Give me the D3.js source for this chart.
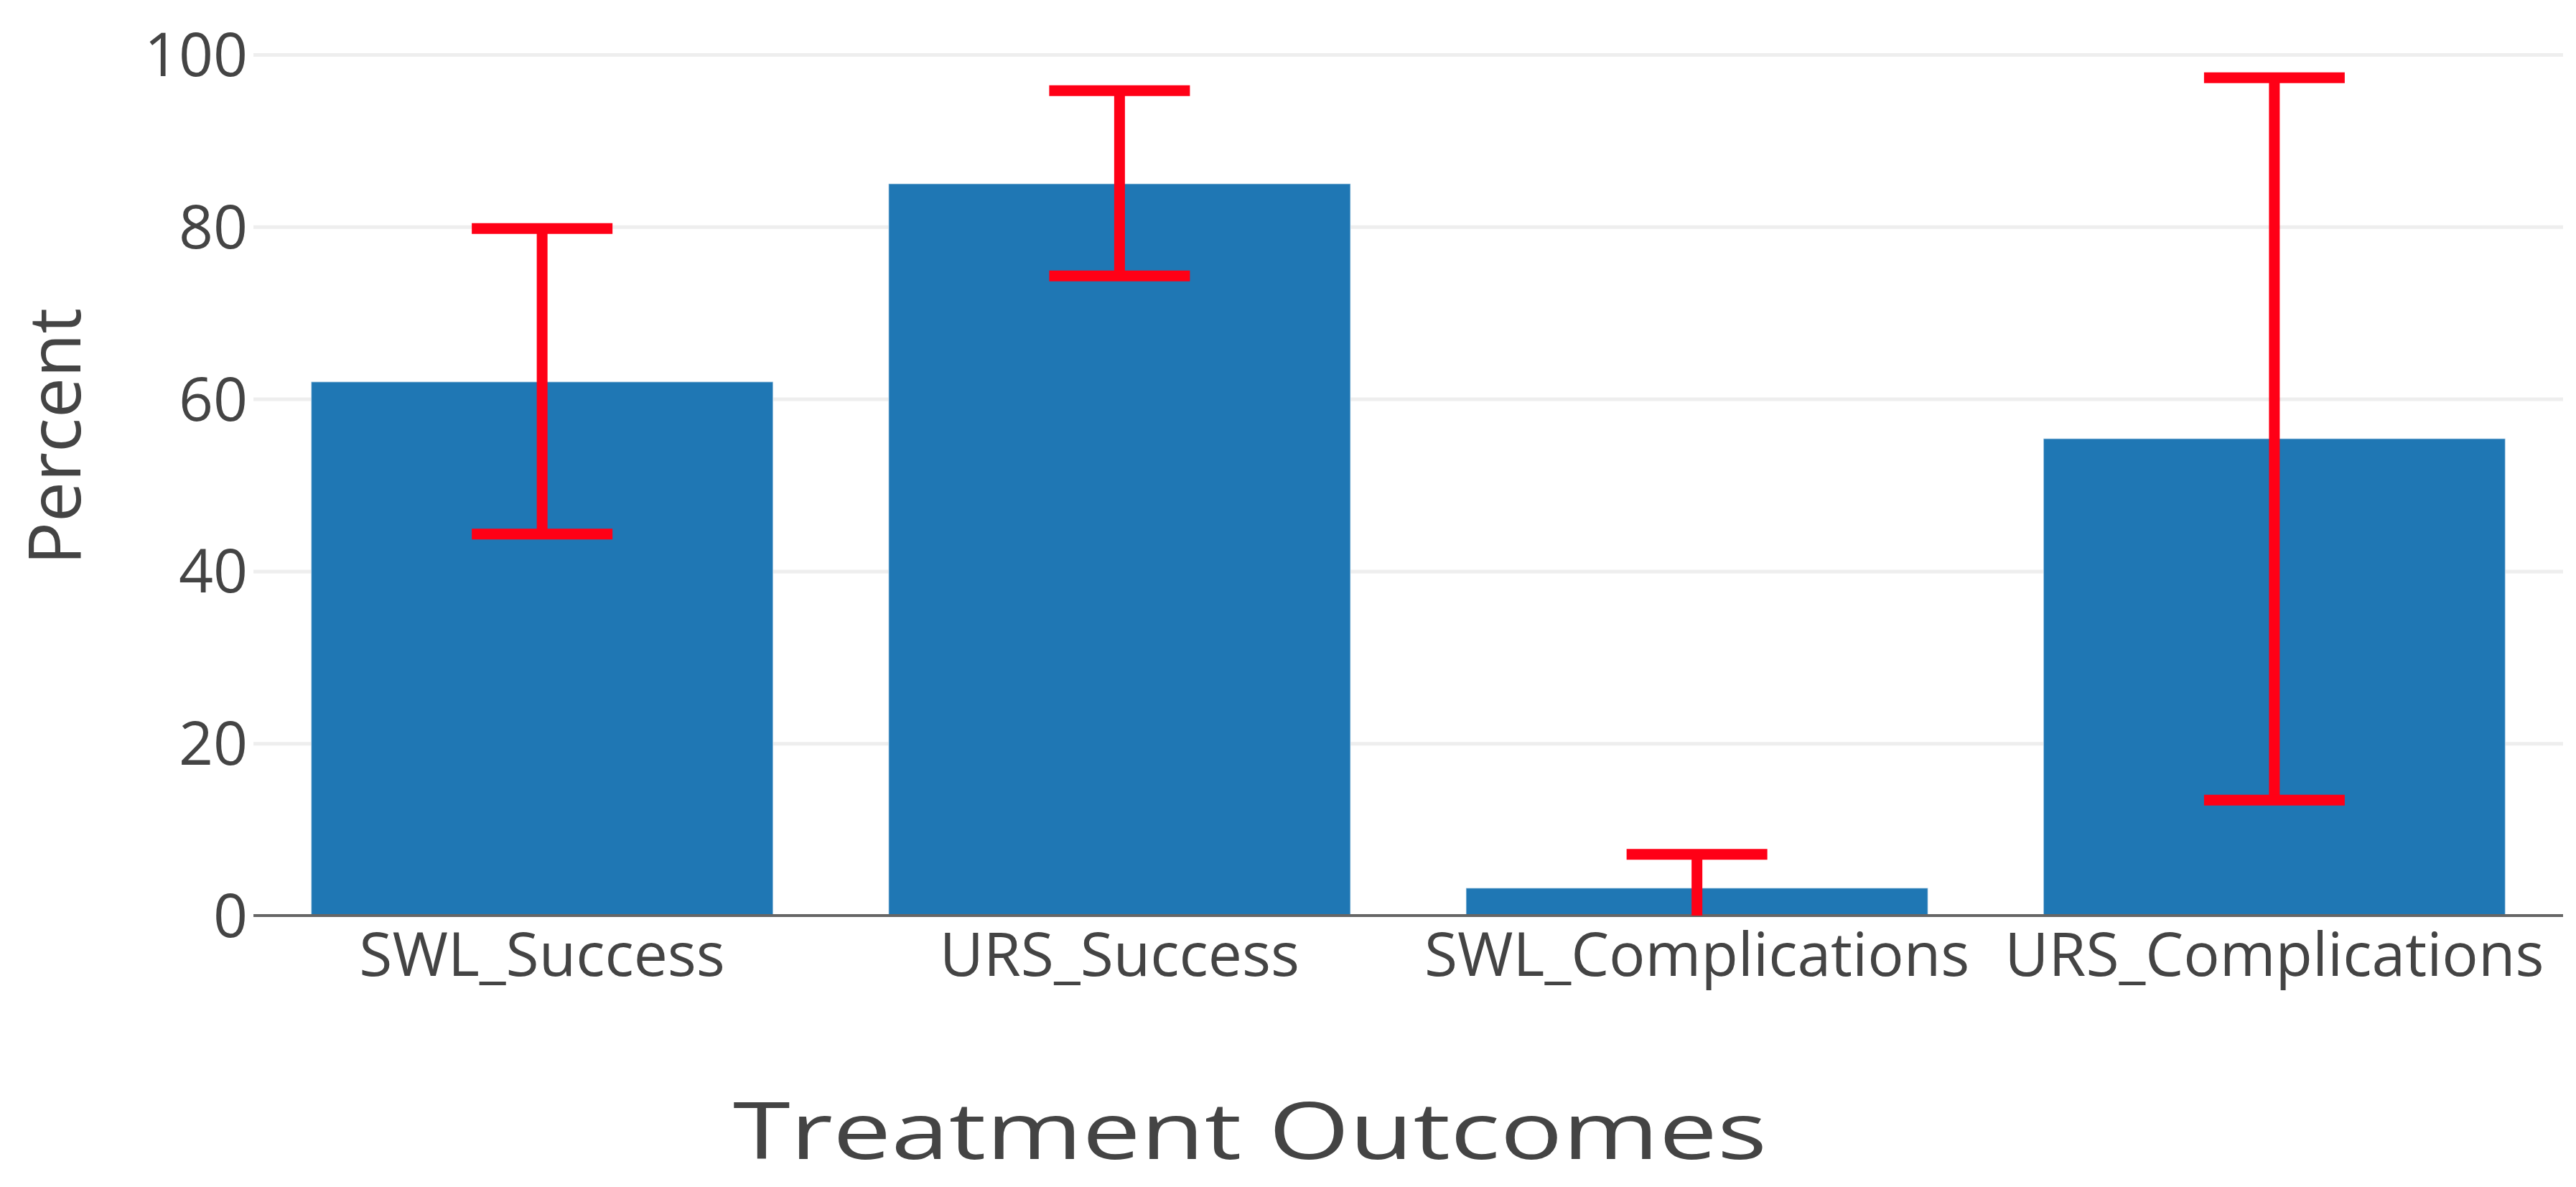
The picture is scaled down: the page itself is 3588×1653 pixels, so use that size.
<!DOCTYPE html>
<html>
<head>
<meta charset="utf-8">
<script src="https://cdn.jsdelivr.net/npm/d3@7.9.0/dist/d3.min.js"></script>
<style>
  body { margin: 0; background: #fff; }
  svg text { font-family: "Open Sans", sans-serif; fill: #444; }
</style>
</head>
<body>
<svg id="chart" width="3588" height="1653"></svg>
<script>
// Data
const categories = ["SWL_Success", "URS_Success", "SWL_Complications", "URS_Complications"];
const percents = [62, 85, 3.2, 55.4];
const errLow = [44.3, 74.3, -1, 13.4];
const errHigh = [79.8, 95.8, 7.1, 97.3];
const yTicks = [0, 20, 40, 60, 80, 100];

const rows = categories.map((c, i) => ({
  name: c, value: percents[i], lo: errLow[i], hi: errHigh[i]
}));

const svg = d3.select("#chart");
const margin = { top: 76, right: 18, bottom: 378, left: 353 };
const width = 3588 - margin.left - margin.right;
const height = 1653 - margin.top - margin.bottom;

const x = d3.scaleBand()
  .domain(categories)
  .range([0, width])
  .paddingInner(0.2)
  .paddingOuter(0.1);

const y = d3.scaleLinear()
  .domain([0, 100])
  .range([height, 0]);

const g = svg.append("g")
  .attr("transform", `translate(${margin.left},${margin.top})`);

// clip so error bars stay inside the plot area
svg.append("defs").append("clipPath")
  .attr("id", "plot-clip")
  .append("rect")
  .attr("x", -20).attr("y", -40)
  .attr("width", width + 40).attr("height", height + 40);

// y axis with gridlines
const yAxis = g.append("g")
  .call(d3.axisLeft(y).tickValues(yTicks).tickSize(-width).tickPadding(8));
yAxis.select(".domain").remove();
yAxis.selectAll(".tick line")
  .attr("stroke", "#eeeeee")
  .attr("stroke-width", 5)
  .attr("display", d => d === 0 ? "none" : null);
yAxis.selectAll(".tick text")
  .attr("font-size", 84)
  .attr("fill", "#444")
  .attr("dy", "0.35em");

// bars
g.selectAll(".bar")
  .data(rows)
  .join("rect")
  .attr("class", "bar")
  .attr("x", d => x(d.name))
  .attr("y", d => y(d.value))
  .attr("width", x.bandwidth())
  .attr("height", d => y(0) - y(d.value))
  .attr("fill", "#1f77b4")
  .attr("stroke", "#ffffff")
  .attr("stroke-opacity", 0.5)
  .attr("stroke-width", 1.5);

// zero line
g.append("line")
  .attr("x1", 0).attr("x2", width)
  .attr("y1", y(0)).attr("y2", y(0))
  .attr("stroke", "#666")
  .attr("stroke-width", 4);

// error bars
const capHalf = 98;
const errG = g.append("g")
  .attr("clip-path", "url(#plot-clip)")
  .selectAll("g")
  .data(rows)
  .join("g")
  .attr("transform", d => `translate(${x(d.name) + x.bandwidth() / 2},0)`);

errG.append("line")
  .attr("y1", d => y(d.hi))
  .attr("y2", d => y(Math.max(d.lo, 0)))
  .attr("stroke", "#ff0016")
  .attr("stroke-width", 15);

errG.append("line")
  .attr("x1", -capHalf).attr("x2", capHalf)
  .attr("y1", d => y(d.hi)).attr("y2", d => y(d.hi))
  .attr("stroke", "#ff0016")
  .attr("stroke-width", 15);

errG.filter(d => d.lo >= 0).append("line")
  .attr("x1", -capHalf).attr("x2", capHalf)
  .attr("y1", d => y(d.lo)).attr("y2", d => y(d.lo))
  .attr("stroke", "#ff0016")
  .attr("stroke-width", 15);

// x axis labels
const xAxis = g.append("g")
  .attr("transform", `translate(0,${height})`)
  .call(d3.axisBottom(x).tickSize(0).tickPadding(24));
xAxis.select(".domain").remove();
xAxis.selectAll(".tick text")
  .attr("font-size", 84)
  .attr("fill", "#444");

// axis titles
svg.append("text")
  .attr("transform", "translate(112,608) rotate(-90)")
  .attr("text-anchor", "middle")
  .attr("font-size", 100)
  .text("Percent");

// the x title in the reference runs wider than a plain Open Sans line
svg.append("text")
  .attr("x", 1741)
  .attr("y", 1614)
  .attr("text-anchor", "middle")
  .attr("font-size", 110)
  .attr("textLength", 1440)
  .attr("lengthAdjust", "spacingAndGlyphs")
  .text("Treatment Outcomes");
</script>
</body>
</html>
